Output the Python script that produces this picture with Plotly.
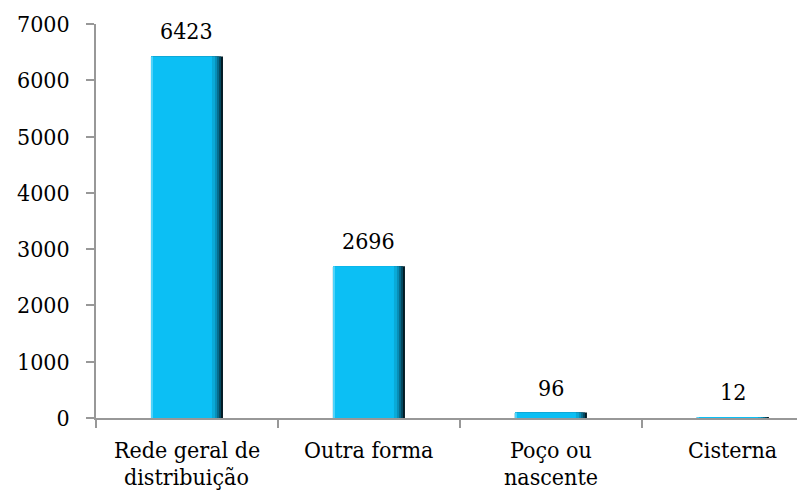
import plotly.graph_objects as go

categories = ["Rede geral de<br>distribuição", "Outra forma", "Poço ou<br>nascente", "Cisterna"]
values = [6423, 2696, 96, 12]
y_ticks = [0, 1000, 2000, 3000, 4000, 5000, 6000, 7000]

FONT = "DejaVu Serif Condensed, DejaVu Serif"
FS = 23
PX = 1 / 182.0          # one pixel in category units
W = 72 * PX             # bar width

fig = go.Figure()
layers = [
    (0, "#021c26"),
    (2, "#044a62"),
    (4, "#066d8e"),
    (6, "#088fb9"),
    (8, "#0aaad8"),
    (11, "#0cbff4"),
]
for inset, col in layers:
    fig.add_trace(go.Bar(
        x=categories, y=values, width=W - inset * PX, offset=-W / 2,
        marker=dict(color=col, line=dict(width=0)),
        hoverinfo="skip", showlegend=False,
    ))
fig.add_trace(go.Bar(
    x=categories, y=values, width=2 * PX, offset=-W / 2,
    marker=dict(color="#4fd3fa", line=dict(width=0)),
    hoverinfo="skip", showlegend=False,
))

for c, v in zip(categories, values):
    fig.add_annotation(x=c, y=v, text=str(v), showarrow=False,
                       yanchor="middle", yshift=25,
                       font=dict(family=FONT, size=FS, color="#000"))

for c in categories:
    for i, line in enumerate(c.split("<br>")):
        fig.add_annotation(x=c, y=0, text=line, showarrow=False,
                           yanchor="middle", yshift=-32 - 27 * i,
                           font=dict(family=FONT, size=FS, color="#000"))

fig.update_layout(
    width=797, height=483,
    margin=dict(l=88, r=0, t=16, b=73),
    paper_bgcolor="white", plot_bgcolor="white",
    barmode="overlay",
    font=dict(family=FONT, size=FS, color="#000"),
    showlegend=False,
)
fig.update_yaxes(range=[0, 7000], tickvals=y_ticks, showgrid=False, zeroline=False,
                 showline=True, linecolor="#989898", linewidth=1.5,
                 ticks="outside", ticklen=8, tickcolor="#989898", tickwidth=1.5,
                 ticklabelstandoff=12,
                 tickfont=dict(family=FONT, size=FS, color="#000"))
fig.update_xaxes(range=[-0.5, 3.396], showgrid=False, showline=True,
                 linecolor="#989898", linewidth=1.5,
                 ticks="outside", ticklen=8, tickcolor="#989898", tickwidth=1.5,
                 tickson="boundaries", showticklabels=False, automargin=False)

fig.write_html("out.html")
